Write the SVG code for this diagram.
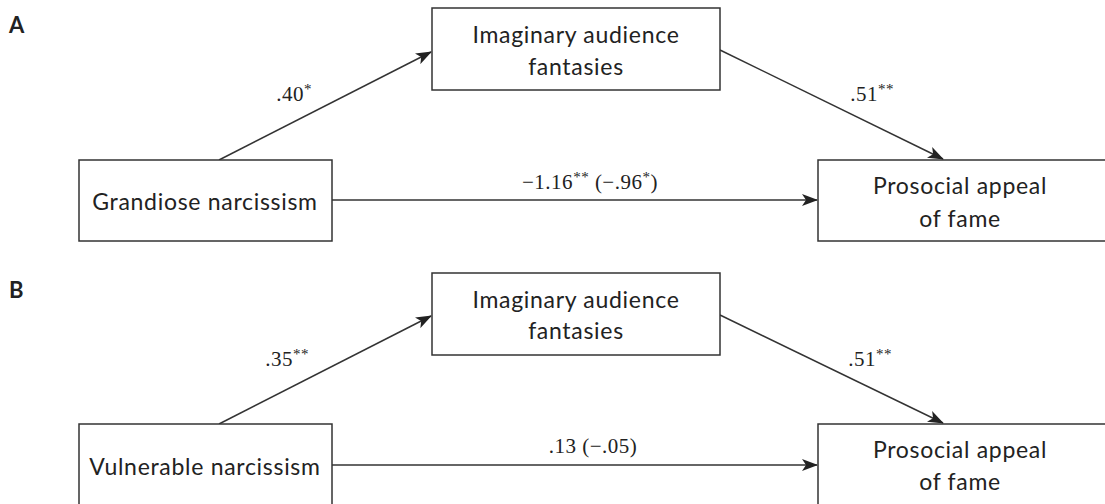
<svg xmlns="http://www.w3.org/2000/svg" width="1105" height="504" viewBox="0 0 1105 504">
<style>
.box{fill:#fff;stroke:#333;stroke-width:1.5}
.t{font-family:Lato,"Open Sans",sans-serif;font-size:23px;letter-spacing:0.7px;fill:#222;text-anchor:middle}
.l{font-family:"Liberation Serif","Times New Roman",serif;font-size:21px;letter-spacing:0.5px;fill:#222;text-anchor:middle}
.s{font-size:15px}
.p{font-family:Lato,"Open Sans",sans-serif;font-size:22px;font-weight:bold;fill:#222}
.e{fill:none;stroke:#333;stroke-width:1.5}
</style>
<defs>
<marker id="ah" viewBox="0 0 16 12" refX="15" refY="6" markerWidth="16" markerHeight="12" markerUnits="userSpaceOnUse" orient="auto">
<path d="M0,0 L16,6 L0,12 L4,6 Z" fill="#222"/>
</marker>
</defs>
<rect width="1105" height="504" fill="#fff"/>
<text class="p" x="9" y="33">A</text>
<text class="p" x="9" y="298">B</text>
<g id="connectors">
<line class="e" x1="219" y1="160" x2="431" y2="52" marker-end="url(#ah)"/>
<line class="e" x1="720" y1="50" x2="943" y2="159" marker-end="url(#ah)"/>
<line class="e" x1="332" y1="200" x2="817" y2="200" marker-end="url(#ah)"/>
<line class="e" x1="219" y1="424" x2="431" y2="316" marker-end="url(#ah)"/>
<line class="e" x1="720" y1="315" x2="943" y2="423" marker-end="url(#ah)"/>
<line class="e" x1="332" y1="465" x2="817" y2="465" marker-end="url(#ah)"/>
<text class="l" x="294" y="101">.40<tspan class="s" dy="-7">*</tspan></text>
<text class="l" x="872" y="101">.51<tspan class="s" dy="-7">**</tspan></text>
<text class="l" x="590" y="189">−1.16<tspan class="s" dy="-7">**</tspan><tspan dy="7"> (−.96</tspan><tspan class="s" dy="-7">*</tspan><tspan dy="7">)</tspan></text>
<text class="l" x="287" y="366">.35<tspan class="s" dy="-7">**</tspan></text>
<text class="l" x="870" y="366">.51<tspan class="s" dy="-7">**</tspan></text>
<text class="l" x="593" y="453">.13 (−.05)</text>
</g>
<g id="a-grandiose">
<rect class="box" x="79" y="160" width="253" height="81"/>
<text class="t" x="205" y="210">Grandiose narcissism</text>
</g>
<g id="a-imaginary">
<rect class="box" x="432" y="8" width="288" height="82"/>
<text class="t" x="576" y="43">Imaginary audience</text>
<text class="t" x="576" y="75">fantasies</text>
</g>
<g id="a-prosocial">
<rect class="box" x="818" y="160" width="300" height="81"/>
<text class="t" x="960" y="194">Prosocial appeal</text>
<text class="t" x="960" y="227">of fame</text>
</g>
<g id="b-vulnerable">
<rect class="box" x="79" y="424" width="253" height="90"/>
<text class="t" x="205" y="475">Vulnerable narcissism</text>
</g>
<g id="b-imaginary">
<rect class="box" x="432" y="273" width="288" height="82"/>
<text class="t" x="576" y="308">Imaginary audience</text>
<text class="t" x="576" y="339">fantasies</text>
</g>
<g id="b-prosocial">
<rect class="box" x="818" y="424" width="300" height="90"/>
<text class="t" x="960" y="458">Prosocial appeal</text>
<text class="t" x="960" y="490">of fame</text>
</g>
</svg>
